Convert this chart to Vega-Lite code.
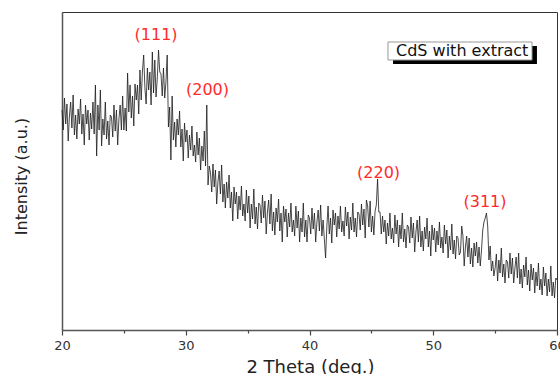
{
"$schema": "https://vega.github.io/schema/vega-lite/v6.json",
"width": 495,
"height": 318,
"autosize": {"type": "none"},
"padding": {"left": 62, "top": 12, "right": 3, "bottom": 44},
"background": "white",
"config": {"view": {"stroke": "#333", "strokeWidth": 1}, "font": "DejaVu Sans"},
"datasets": {
"xrd": [
{"t":20.0,"i":220},{"t":20.1,"i":200},{"t":20.2,"i":232},{"t":20.3,"i":206},{"t":20.4,"i":226},{"t":20.5,"i":189},{"t":20.6,"i":214},{"t":20.7,"i":228},{"t":20.8,"i":202},{"t":20.9,"i":235},
{"t":21.0,"i":195},{"t":21.1,"i":215},{"t":21.2,"i":191},{"t":21.3,"i":221},{"t":21.4,"i":206},{"t":21.5,"i":231},{"t":21.6,"i":196},{"t":21.7,"i":216},{"t":21.8,"i":185},{"t":21.9,"i":225},
{"t":22.0,"i":206},{"t":22.1,"i":220},{"t":22.2,"i":190},{"t":22.3,"i":217},{"t":22.4,"i":201},{"t":22.5,"i":228},{"t":22.6,"i":196},{"t":22.7,"i":245},{"t":22.8,"i":174},{"t":22.9,"i":225},
{"t":23.0,"i":200},{"t":23.1,"i":240},{"t":23.2,"i":184},{"t":23.3,"i":211},{"t":23.4,"i":195},{"t":23.5,"i":228},{"t":23.6,"i":191},{"t":23.7,"i":209},{"t":23.8,"i":185},{"t":23.9,"i":215},
{"t":24.0,"i":213},{"t":24.1,"i":193},{"t":24.2,"i":225},{"t":24.3,"i":199},{"t":24.4,"i":220},{"t":24.5,"i":185},{"t":24.6,"i":211},{"t":24.7,"i":225},{"t":24.8,"i":200},{"t":24.9,"i":234},
{"t":25.0,"i":200},{"t":25.1,"i":222},{"t":25.2,"i":199},{"t":25.3,"i":257},{"t":25.4,"i":218},{"t":25.5,"i":245},{"t":25.6,"i":212},{"t":25.7,"i":234},{"t":25.8,"i":204},{"t":25.9,"i":246},
{"t":26.0,"i":230},{"t":26.1,"i":245},{"t":26.2,"i":216},{"t":26.3,"i":260},{"t":26.4,"i":230},{"t":26.5,"i":259},{"t":26.6,"i":275},{"t":26.7,"i":242},{"t":26.8,"i":226},{"t":26.9,"i":262},
{"t":27.0,"i":240},{"t":27.1,"i":258},{"t":27.2,"i":225},{"t":27.3,"i":278},{"t":27.4,"i":237},{"t":27.5,"i":270},{"t":27.6,"i":233},{"t":27.7,"i":252},{"t":27.8,"i":280},{"t":27.9,"i":258},
{"t":28.0,"i":256},{"t":28.1,"i":234},{"t":28.2,"i":262},{"t":28.3,"i":232},{"t":28.4,"i":248},{"t":28.5,"i":275},{"t":28.6,"i":203},{"t":28.7,"i":223},{"t":28.8,"i":170},{"t":28.9,"i":234},
{"t":29.0,"i":190},{"t":29.1,"i":208},{"t":29.2,"i":183},{"t":29.3,"i":211},{"t":29.4,"i":195},{"t":29.5,"i":219},{"t":29.6,"i":183},{"t":29.7,"i":201},{"t":29.8,"i":169},{"t":29.9,"i":207},
{"t":30.0,"i":188},{"t":30.1,"i":200},{"t":30.2,"i":172},{"t":30.3,"i":195},{"t":30.4,"i":180},{"t":30.5,"i":204},{"t":30.6,"i":174},{"t":30.7,"i":185},{"t":30.8,"i":168},{"t":30.9,"i":198},
{"t":31.0,"i":175},{"t":31.1,"i":192},{"t":31.2,"i":160},{"t":31.3,"i":184},{"t":31.4,"i":169},{"t":31.5,"i":199},{"t":31.6,"i":164},{"t":31.7,"i":225},{"t":31.8,"i":145},{"t":31.9,"i":164},
{"t":32.0,"i":157},{"t":32.1,"i":138},{"t":32.2,"i":166},{"t":32.3,"i":143},{"t":32.4,"i":160},{"t":32.5,"i":126},{"t":32.6,"i":148},{"t":32.7,"i":159},{"t":32.8,"i":136},{"t":32.9,"i":165},
{"t":33.0,"i":128},{"t":33.1,"i":146},{"t":33.2,"i":122},{"t":33.3,"i":148},{"t":33.4,"i":132},{"t":33.5,"i":155},{"t":33.6,"i":122},{"t":33.7,"i":138},{"t":33.8,"i":109},{"t":33.9,"i":143},
{"t":34.0,"i":126},{"t":34.1,"i":138},{"t":34.2,"i":111},{"t":34.3,"i":134},{"t":34.4,"i":120},{"t":34.5,"i":144},{"t":34.6,"i":114},{"t":34.7,"i":126},{"t":34.8,"i":109},{"t":34.9,"i":140},
{"t":35.0,"i":117},{"t":35.1,"i":134},{"t":35.2,"i":102},{"t":35.3,"i":126},{"t":35.4,"i":111},{"t":35.5,"i":141},{"t":35.6,"i":106},{"t":35.7,"i":123},{"t":35.8,"i":101},{"t":35.9,"i":127},
{"t":36.0,"i":125},{"t":36.1,"i":107},{"t":36.2,"i":135},{"t":36.3,"i":112},{"t":36.4,"i":129},{"t":36.5,"i":96},{"t":36.6,"i":118},{"t":36.7,"i":130},{"t":36.8,"i":106},{"t":36.9,"i":136},
{"t":37.0,"i":99},{"t":37.1,"i":118},{"t":37.2,"i":95},{"t":37.3,"i":122},{"t":37.4,"i":108},{"t":37.5,"i":131},{"t":37.6,"i":99},{"t":37.7,"i":117},{"t":37.8,"i":88},{"t":37.9,"i":124},
{"t":38.0,"i":108},{"t":38.1,"i":121},{"t":38.2,"i":93},{"t":38.3,"i":117},{"t":38.4,"i":103},{"t":38.5,"i":127},{"t":38.6,"i":98},{"t":38.7,"i":110},{"t":38.8,"i":94},{"t":38.9,"i":124},
{"t":39.0,"i":102},{"t":39.1,"i":119},{"t":39.2,"i":88},{"t":39.3,"i":112},{"t":39.4,"i":98},{"t":39.5,"i":127},{"t":39.6,"i":93},{"t":39.7,"i":110},{"t":39.8,"i":88},{"t":39.9,"i":115},
{"t":40.0,"i":112},{"t":40.1,"i":96},{"t":40.2,"i":122},{"t":40.3,"i":101},{"t":40.4,"i":117},{"t":40.5,"i":88},{"t":40.6,"i":108},{"t":40.7,"i":120},{"t":40.8,"i":99},{"t":40.9,"i":125},
{"t":41.0,"i":94},{"t":41.1,"i":110},{"t":41.2,"i":91},{"t":41.3,"i":72},{"t":41.4,"i":103},{"t":41.5,"i":124},{"t":41.6,"i":96},{"t":41.7,"i":112},{"t":41.8,"i":87},{"t":41.9,"i":120},
{"t":42.0,"i":105},{"t":42.1,"i":117},{"t":42.2,"i":93},{"t":42.3,"i":114},{"t":42.4,"i":101},{"t":42.5,"i":124},{"t":42.6,"i":98},{"t":42.7,"i":109},{"t":42.8,"i":94},{"t":42.9,"i":123},
{"t":43.0,"i":104},{"t":43.1,"i":118},{"t":43.2,"i":91},{"t":43.3,"i":113},{"t":43.4,"i":100},{"t":43.5,"i":127},{"t":43.6,"i":98},{"t":43.7,"i":112},{"t":43.8,"i":93},{"t":43.9,"i":118},
{"t":44.0,"i":116},{"t":44.1,"i":100},{"t":44.2,"i":126},{"t":44.3,"i":105},{"t":44.4,"i":121},{"t":44.5,"i":92},{"t":44.6,"i":130},{"t":44.7,"i":124},{"t":44.8,"i":103},{"t":44.9,"i":129},
{"t":45.0,"i":98},{"t":45.1,"i":114},{"t":45.2,"i":95},{"t":45.3,"i":119},{"t":45.4,"i":125},{"t":45.5,"i":151},{"t":45.6,"i":118},{"t":45.7,"i":118},{"t":45.8,"i":96},{"t":45.9,"i":114},
{"t":46.0,"i":98},{"t":46.1,"i":110},{"t":46.2,"i":86},{"t":46.3,"i":107},{"t":46.4,"i":94},{"t":46.5,"i":117},{"t":46.6,"i":91},{"t":46.7,"i":102},{"t":46.8,"i":87},{"t":46.9,"i":115},
{"t":47.0,"i":96},{"t":47.1,"i":110},{"t":47.2,"i":83},{"t":47.3,"i":105},{"t":47.4,"i":91},{"t":47.5,"i":117},{"t":47.6,"i":88},{"t":47.7,"i":101},{"t":47.8,"i":82},{"t":47.9,"i":105},
{"t":48.0,"i":103},{"t":48.1,"i":87},{"t":48.2,"i":113},{"t":48.3,"i":92},{"t":48.4,"i":107},{"t":48.5,"i":78},{"t":48.6,"i":98},{"t":48.7,"i":110},{"t":48.8,"i":88},{"t":48.9,"i":114},
{"t":49.0,"i":83},{"t":49.1,"i":99},{"t":49.2,"i":79},{"t":49.3,"i":103},{"t":49.4,"i":91},{"t":49.5,"i":112},{"t":49.6,"i":83},{"t":49.7,"i":99},{"t":49.8,"i":74},{"t":49.9,"i":105},
{"t":50.0,"i":90},{"t":50.1,"i":102},{"t":50.2,"i":78},{"t":50.3,"i":99},{"t":50.4,"i":85},{"t":50.5,"i":108},{"t":50.6,"i":82},{"t":50.7,"i":93},{"t":50.8,"i":77},{"t":50.9,"i":105},
{"t":51.0,"i":86},{"t":51.1,"i":100},{"t":51.2,"i":72},{"t":51.3,"i":94},{"t":51.4,"i":80},{"t":51.5,"i":106},{"t":51.6,"i":76},{"t":51.7,"i":90},{"t":51.8,"i":71},{"t":51.9,"i":94},
{"t":52.0,"i":92},{"t":52.1,"i":75},{"t":52.2,"i":78},{"t":52.3,"i":104},{"t":52.4,"i":94},{"t":52.5,"i":64},{"t":52.6,"i":83},{"t":52.7,"i":94},{"t":52.8,"i":73},{"t":52.9,"i":92},
{"t":53.0,"i":66},{"t":53.1,"i":82},{"t":53.2,"i":63},{"t":53.3,"i":87},{"t":53.4,"i":74},{"t":53.5,"i":88},{"t":53.6,"i":67},{"t":53.7,"i":83},{"t":53.8,"i":64},{"t":53.9,"i":80},
{"t":54.0,"i":100},{"t":54.1,"i":108},{"t":54.2,"i":112},{"t":54.3,"i":117},{"t":54.4,"i":104},{"t":54.5,"i":70},{"t":54.6,"i":84},{"t":54.7,"i":59},{"t":54.8,"i":69},{"t":54.9,"i":54},
{"t":55.0,"i":62},{"t":55.1,"i":76},{"t":55.2,"i":49},{"t":55.3,"i":70},{"t":55.4,"i":57},{"t":55.5,"i":82},{"t":55.6,"i":53},{"t":55.7,"i":66},{"t":55.8,"i":47},{"t":55.9,"i":70},
{"t":56.0,"i":68},{"t":56.1,"i":52},{"t":56.2,"i":77},{"t":56.3,"i":56},{"t":56.4,"i":72},{"t":56.5,"i":47},{"t":56.6,"i":62},{"t":56.7,"i":73},{"t":56.8,"i":52},{"t":56.9,"i":77},
{"t":57.0,"i":46},{"t":57.1,"i":61},{"t":57.2,"i":42},{"t":57.3,"i":65},{"t":57.4,"i":53},{"t":57.5,"i":73},{"t":57.6,"i":45},{"t":57.7,"i":60},{"t":57.8,"i":39},{"t":57.9,"i":66},
{"t":58.0,"i":50},{"t":58.1,"i":62},{"t":58.2,"i":37},{"t":58.3,"i":58},{"t":58.4,"i":44},{"t":58.5,"i":67},{"t":58.6,"i":40},{"t":58.7,"i":51},{"t":58.8,"i":35},{"t":58.9,"i":63},
{"t":59.0,"i":44},{"t":59.1,"i":57},{"t":59.2,"i":34},{"t":59.3,"i":51},{"t":59.4,"i":38},{"t":59.5,"i":64},{"t":59.6,"i":34},{"t":59.7,"i":48},{"t":59.8,"i":32},{"t":59.9,"i":52},
{"t":60.0,"i":50}
],
"peaks": [
{"t":27.6,"i":295,"label":"(111)"},
{"t":31.76,"i":240.5,"label":"(200)"},
{"t":45.58,"i":157.5,"label":"(220)"},
{"t":54.18,"i":128.5,"label":"(311)"}
],
"legendbox": [
{"x1":46.34,"x2":57.98,"y1":288,"y2":270,"sx1":46.75,"sx2":58.38,"sy1":284,"sy2":266,"tx":46.99,"ty":279,"label":"CdS with extract"}
]
},
"layer": [
{
"data": {"name": "xrd"},
"mark": {"type": "line", "color": "#1c1c1c", "strokeWidth": 0.8},
"encoding": {
"x": {"field": "t", "type": "quantitative", "scale": {"domain": [20, 60], "nice": false, "zero": false},
"axis": {"title": "2 Theta (deg.)", "values": [20,25,30,35,40,45,50,55,60],
"labelExpr": "datum.value % 10 === 0 ? datum.label : ''",
"tickSize": {"condition": {"test": "datum.value % 10 === 0", "value": 5}, "value": 3},
"tickColor": "#444", "tickWidth": 1.2, "domainColor": "#555", "domainWidth": 1.5,
"labelFont": "DejaVu Sans", "labelFontSize": 13, "labelColor": "#333", "labelBaseline": "alphabetic", "labelPadding": 14,
"labelFlush": false, "labelOverlap": false, "grid": false,
"titleFont": "DejaVu Sans", "titleFontSize": 18, "titleFontWeight": "normal", "titleColor": "#222",
"titleX": 248, "titleY": 42, "titleBaseline": "alphabetic"}},
"y": {"field": "i", "type": "quantitative", "scale": {"domain": [0, 318], "nice": false, "zero": false},
"axis": {"title": "Intensity (a.u.)", "ticks": false, "labels": false, "grid": false, "domainColor": "#555", "domainWidth": 1.5,
"titleFont": "DejaVu Sans", "titleFontSize": 16, "titleFontWeight": "normal", "titleColor": "#222",
"titleX": -41, "titleY": 164, "titleAngle": -90, "titleBaseline": "middle", "titleAlign": "center"}}
}
},
{
"data": {"name": "peaks"},
"mark": {"type": "text", "color": "#ff2a2a", "fontSize": 16, "font": "DejaVu Sans", "align": "center", "baseline": "middle"},
"encoding": {"x": {"field": "t", "type": "quantitative"}, "y": {"field": "i", "type": "quantitative"}, "text": {"field": "label"}}
},
{
"data": {"name": "legendbox"},
"mark": {"type": "rect", "color": "#000000"},
"encoding": {"x": {"field": "sx1", "type": "quantitative"}, "x2": {"field": "sx2"}, "y": {"field": "sy1", "type": "quantitative"}, "y2": {"field": "sy2"}}
},
{
"data": {"name": "legendbox"},
"mark": {"type": "rect", "fill": "#ffffff", "stroke": "#999999", "strokeWidth": 1},
"encoding": {"x": {"field": "x1", "type": "quantitative"}, "x2": {"field": "x2"}, "y": {"field": "y1", "type": "quantitative"}, "y2": {"field": "y2"}}
},
{
"data": {"name": "legendbox"},
"mark": {"type": "text", "color": "#111111", "fontSize": 16, "font": "DejaVu Sans", "align": "left", "baseline": "middle"},
"encoding": {"x": {"field": "tx", "type": "quantitative"}, "y": {"field": "ty", "type": "quantitative"}, "text": {"field": "label"}}
}
]
}
